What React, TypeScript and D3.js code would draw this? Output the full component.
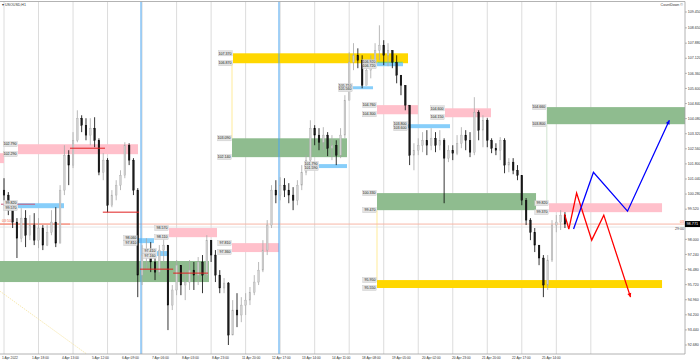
import React from "react";
import * as d3 from "d3";

// ---- price data (hourly candles, 2 bars merged) ----
const OPEN0 = 100.48;
const CLOSE = [
  100.23, 99.47, 98.87, 98.06, 99.07, 98.21, 98.72, 97.96, 98.57, 97.71,
  98.36, 98.87, 97.81, 100.48, 102.24, 101.74, 102.99, 104.1, 103.75, 103.25,
  103.6, 102.99, 101.38, 101.99, 99.72, 100.23, 100.73, 101.23, 102.74, 101.99,
  100.48, 96.2, 97.21, 97.46, 96.86, 96.35, 97.46, 97.71, 94.69, 95.45,
  96.7, 95.7, 95.85, 96.45, 96.2, 96.86, 96.2, 97.96, 97.21, 96.2,
  95.55, 95.8, 93.18, 94.44, 94.19, 94.69, 94.94, 95.34, 95.85, 96.45,
  97.46, 98.72, 100.48, 100.23, 100.73, 100.48, 100.23, 99.97, 100.73, 101.38,
  101.99, 103.6, 103.25, 102.89, 103.25, 102.59, 102.74, 102.24, 103.25, 105.01,
  106.92, 107.27, 107.02, 105.76, 106.52, 106.77, 107.52, 107.78, 107.27, 107.52,
  106.92, 106.27, 105.76, 104.76, 102.24, 102.49, 102.74, 102.99, 102.74, 103.09,
  102.74, 102.99, 102.09, 102.49, 102.34, 102.84, 103.25, 102.99, 102.39, 104.4,
  103.5, 104.0, 102.99, 102.59, 102.49, 102.99, 101.74, 101.89, 101.48, 101.23,
  99.97, 98.97, 98.36, 97.71, 97.06, 95.7, 96.96, 98.72, 98.87, 99.22,
  98.77,
];
const HIGH = [
  101.08, 100.38, 99.82, 99.07, 99.57, 99.47, 99.22, 99.32, 99.07, 98.72,
  98.72, 99.47, 99.62, 100.73, 102.74, 102.49, 103.4, 104.5, 104.25, 104.1,
  104.1, 104.15, 103.09, 102.34, 102.09, 100.48, 100.98, 101.48, 102.89, 102.84,
  102.09, 100.58, 97.71, 98.06, 97.86, 97.21, 97.71, 98.11, 97.71, 95.7,
  96.96, 96.45, 96.45, 96.96, 96.86, 97.11, 97.21, 98.21, 97.81, 97.46,
  96.45, 96.05, 95.85, 94.94, 95.29, 95.09, 95.29, 95.6, 96.2, 96.86,
  97.96, 98.97, 100.73, 100.98, 101.13, 101.08, 100.83, 100.63, 100.98, 101.74,
  102.24, 104.0, 103.75, 103.6, 103.65, 103.4, 103.25, 102.99, 103.6, 105.26,
  107.42, 107.88, 107.62, 107.27, 106.92, 107.27, 107.88, 108.78, 108.03, 107.88,
  107.52, 107.27, 106.27, 105.76, 104.76, 102.84, 103.09, 103.4, 103.5, 103.6,
  103.4, 103.5, 103.09, 102.74, 102.74, 103.25, 103.65, 103.5, 103.4, 105.16,
  104.5, 104.25, 104.1, 103.09, 102.84, 103.15, 103.09, 102.09, 102.09, 101.74,
  101.23, 100.08, 99.07, 98.57, 97.71, 97.21, 97.21, 98.97, 99.22, 99.47,
  99.37,
];
const LOW = [
  99.97, 99.22, 98.57, 97.06, 97.86, 97.61, 97.96, 97.71, 97.56, 97.46,
  97.66, 98.21, 97.61, 97.81, 100.23, 100.73, 101.59, 102.89, 103.4, 102.99,
  102.74, 102.64, 101.23, 100.98, 99.37, 99.62, 99.97, 100.48, 101.08, 101.74,
  100.23, 95.09, 95.7, 96.45, 96.35, 95.95, 96.2, 96.86, 93.43, 94.44,
  95.19, 95.19, 94.94, 95.45, 95.45, 95.7, 95.29, 96.05, 96.86, 95.85,
  95.29, 95.29, 92.68, 93.43, 93.58, 93.83, 94.19, 94.69, 95.19, 95.7,
  96.35, 97.21, 98.57, 99.82, 99.97, 100.13, 99.82, 99.47, 99.72, 100.48,
  101.23, 101.89, 102.74, 102.49, 102.49, 102.19, 101.99, 101.74, 102.09, 103.09,
  105.01, 106.52, 106.62, 105.61, 105.76, 106.11, 106.92, 107.02, 106.77, 106.72,
  106.62, 105.86, 105.26, 104.5, 101.74, 101.48, 102.24, 102.39, 102.24, 102.49,
  102.39, 102.49, 99.82, 101.89, 101.99, 102.24, 102.59, 102.49, 102.14, 102.24,
  102.99, 102.64, 102.64, 102.34, 102.24, 101.99, 101.33, 101.38, 101.28, 100.98,
  99.72, 98.72, 97.96, 97.36, 96.7, 95.09, 95.45, 96.86, 98.36, 98.47,
  98.57,
];

// ---- axis labels ----
const PRICE_TICKS = [
  "109.450", "108.650", "107.880", "107.120", "106.360", "105.600", "104.840",
  "104.080", "103.320", "102.560", "101.800", "101.040", "100.280", "99.520",
  "98.760", "98.000", "97.240", "96.480", "95.720", "94.960", "94.200",
  "93.440", "92.680",
];
const TIME_LABELS = [
  "1 Apr 2022", "1 Apr 18:00", "4 Apr 13:00", "5 Apr 12:00", "6 Apr 09:00",
  "7 Apr 06:00", "8 Apr 03:00", "8 Apr 23:00", "11 Apr 20:00", "12 Apr 17:00",
  "13 Apr 14:00", "14 Apr 11:00", "18 Apr 08:00", "19 Apr 05:00", "20 Apr 02:00",
  "20 Apr 23:00", "21 Apr 20:00", "22 Apr 17:00", "25 Apr 14:00",
];
const GRID_STEP = 8;
const GRID_LAST = 136;
const CURRENT_PRICE = 98.77;
const ASK_PRICE = 98.62;

// ---- zones: [startIdx, endIdx, top, bottom, kind, labelled] ----
const ZONES: [number, number, number, number, string, boolean][] = [
  [-2, 0, 102.34, 101.84, "pink", false],
  [3.24, 31.05, 102.79, 102.29, "pink", true],
  [3.24, 13.9, 99.82, 99.57, "blue", true],
  [-2, 47.5, 96.91, 95.85, "green", false],
  [31.05, 34.76, 98.06, 97.81, "blue", true],
  [35.46, 38.0, 97.41, 97.16, "blue", true],
  [38.24, 49.36, 98.57, 98.11, "pink", true],
  [52.84, 79.49, 103.09, 102.14, "green", true],
  [53.07, 93.63, 107.37, 106.87, "gold", true],
  [52.84, 63.73, 97.81, 97.36, "pink", true],
  [73.0, 79.49, 101.79, 101.59, "blue", true],
  [80.88, 85.52, 105.71, 105.56, "blue", true],
  [86.44, 92.47, 106.92, 106.72, "blue", true],
  [86.44, 95.94, 104.76, 104.3, "pink", true],
  [93.63, 103.36, 103.8, 103.6, "blue", true],
  [102.2, 112.86, 104.6, 104.15, "pink", true],
  [86.44, 123.3, 100.33, 99.47, "green", true],
  [86.44, 152.5, 95.95, 95.55, "gold", true],
  [126.3, 152.5, 99.82, 99.37, "pink", true],
  [125.8, 158.5, 104.66, 103.8, "green", true],
];
const ZONE_COLORS: Record<string, string> = {
  pink: "#ffc0cb",
  green: "#8fbc8f",
  gold: "#ffd700",
  blue: "#87cefa",
};
// short red levels: [startIdx, endIdx, price]
const RED_LEVELS: [number, number, number][] = [
  [15.3, 23.4, 102.59],
  [22.9, 31.3, 99.37],
  [31.5, 39.2, 96.5],
  [39.2, 47.3, 96.3],
];
const PURPLE_LEVEL: [number, number, number] = [-0.7, 7.2, 99.77];
// thin connectors: [idx, from, to, color]
const CONNECTORS: [number, number, number, string][] = [
  [52.84, 106.87, 103.09, "#ffe680"],
  [86.44, 99.47, 95.95, "#ffe680"],
  [125.8, 103.8, 99.82, "#c4dcc4"],
];
const SESSION_LINES = [31.75, 63.73];
// projected paths [idx, price]
const RED_PATH: [number, number][] = [
  [129.9, 99.27], [130.9, 98.52], [132.7, 100.33], [136.2, 97.96], [139.0, 99.22], [145.2, 95.09],
];
const BLUE_PATH: [number, number][] = [
  [132.0, 98.52], [136.6, 101.38], [144.5, 99.42], [154.2, 104.0],
];
const DIAG: [number, number][] = [[-1, 95.4], [19.2, 92.22]];

const W = 700;
const H = 362;
const PLOT_R = 685;
const PLOT_T = 1.5;
const PLOT_B = 354;

function Arrow({ pts, color, x, y }: { pts: [number, number][]; color: string; x: any; y: any }) {
  const line = d3.line<[number, number]>().x((d) => x(d[0])).y((d) => y(d[1]));
  const n = pts.length;
  const x1 = x(pts[n - 2][0]), y1 = y(pts[n - 2][1]);
  const x2 = x(pts[n - 1][0]), y2 = y(pts[n - 1][1]);
  const ang = Math.atan2(y2 - y1, x2 - x1);
  const L = 4, Wd = 2;
  const bx = x2 - L * Math.cos(ang), by = y2 - L * Math.sin(ang);
  const p1 = [bx + Wd * Math.sin(ang), by - Wd * Math.cos(ang)];
  const p2 = [bx - Wd * Math.sin(ang), by + Wd * Math.cos(ang)];
  return (
    <g>
      <path d={line(pts) || ""} fill="none" stroke={color} strokeWidth={1.3} />
      <path d={`M${x2},${y2}L${p1[0]},${p1[1]}L${p2[0]},${p2[1]}Z`} fill={color} />
    </g>
  );
}

function Tag({ xr, yv, text }: { xr: number; yv: number; text: string }) {
  const w = 13.5;
  return (
    <g>
      <rect x={xr - w} y={yv - 2.6} width={w} height={5.2} fill="#e4e4e4" stroke="#b8b8b8" strokeWidth={0.3} />
      <text x={xr - 0.7} y={yv + 1.2} fontSize={3.6} textAnchor="end" fill="#222">{text}</text>
    </g>
  );
}

export default function App() {
  const x = d3.scaleLinear().domain([0, 1]).range([4, 8.315]);
  const y = d3.scaleLinear().domain([92.68, 109.45]).range([345, 12]);
  const tx = d3.scalePoint<string>().domain(TIME_LABELS).range([2, 542]);
  const grid = d3.range(0, GRID_LAST + 1, GRID_STEP);
  const font = "'Liberation Sans', Arial, sans-serif";

  return (
    <div style={{ position: "fixed", left: 0, top: 0, width: W, height: H, background: "#fff" }}>
      <svg width={W} height={H} style={{ display: "block", fontFamily: font }}>
        <defs>
          <clipPath id="plot">
            <rect x={0} y={PLOT_T} width={PLOT_R} height={PLOT_B - PLOT_T} />
          </clipPath>
        </defs>
        <rect width={W} height={H} fill="#fff" />
        <g clipPath="url(#plot)">
          {grid.map((g) => (
            <line key={g} x1={x(g)} x2={x(g)} y1={PLOT_T} y2={PLOT_B} stroke="#dcdcdc" strokeWidth={1} />
          ))}
          {ZONES.map((z, k) => (
            <rect key={k} x={x(z[0])} width={x(z[1]) - x(z[0])} y={y(z[2])} height={y(z[3]) - y(z[2])}
              fill={ZONE_COLORS[z[4]]} />
          ))}
          {CONNECTORS.map((c, k) => (
            <line key={k} x1={x(c[0])} x2={x(c[0])} y1={y(c[1])} y2={y(c[2])} stroke={c[3]} strokeWidth={0.8} />
          ))}
          <line x1={x(86.6)} x2={x(92.4)} y1={y(106.92)} y2={y(106.92)} stroke="#6fd36f" strokeWidth={1} />
          <path d={d3.line<[number, number]>().x((d) => x(d[0])).y((d) => y(d[1]))(DIAG) || ""}
            stroke="#f5e3a0" strokeWidth={0.8} strokeDasharray="1.5,1" fill="none" />
          <line x1={0} x2={PLOT_R} y1={y(CURRENT_PRICE)} y2={y(CURRENT_PRICE)} stroke="#f7b6a6" strokeWidth={1} />
          <line x1={0} x2={PLOT_R} y1={y(ASK_PRICE)} y2={y(ASK_PRICE)} stroke="#dedede" strokeWidth={0.8} />
          <line x1={0} x2={x(15.3)} y1={y(CURRENT_PRICE)} y2={y(CURRENT_PRICE)} stroke="#f27b68" strokeWidth={1} />
          {SESSION_LINES.map((s) => (
            <line key={s} x1={x(s)} x2={x(s)} y1={PLOT_T} y2={PLOT_B} stroke="#4aa6f2" strokeWidth={1} />
          ))}
          {CLOSE.map((c, i) => {
            const o = i === 0 ? OPEN0 : CLOSE[i - 1];
            const up = c >= o;
            const hi = Math.max(HIGH[i], o, c);
            const lo = Math.min(LOW[i], o, c);
            const cx = x(i);
            const top = y(Math.max(o, c));
            const bh = Math.max(0.8, y(Math.min(o, c)) - top);
            return (
              <g key={i}>
                <line x1={cx} x2={cx} y1={y(hi)} y2={y(lo)} stroke={up ? "#a8a8a8" : "#000"} strokeWidth={0.8} />
                <rect x={cx - 0.85} y={top} width={1.7} height={bh} fill={up ? "#d0d0d0" : "#1a1a1a"}
                  stroke={up ? "#a8a8a8" : "#000"} strokeWidth={0.35} />
              </g>
            );
          })}
          {RED_LEVELS.map((r, k) => (
            <line key={k} x1={x(r[0])} x2={x(r[1])} y1={y(r[2])} y2={y(r[2])} stroke="#e01f1f" strokeWidth={1} />
          ))}
          <line x1={x(PURPLE_LEVEL[0])} x2={x(PURPLE_LEVEL[1])} y1={y(PURPLE_LEVEL[2])} y2={y(PURPLE_LEVEL[2])}
            stroke="#c8587a" strokeWidth={1} />
          <Arrow pts={RED_PATH} color="#ff0000" x={x} y={y} />
          <Arrow pts={BLUE_PATH} color="#0000ff" x={x} y={y} />
          {ZONES.filter((z) => z[5]).map((z, k) => (
            <g key={k}>
              <Tag xr={x(z[0]) - 0.8} yv={y(z[2])} text={z[2].toFixed(3)} />
              <Tag xr={x(z[0]) - 0.8} yv={y(z[3])} text={z[3].toFixed(3)} />
            </g>
          ))}
        </g>
        {/* frame */}
        <line x1={0} x2={PLOT_R} y1={PLOT_T} y2={PLOT_T} stroke="#a0a0a0" strokeWidth={0.8} />
        <line x1={0} x2={PLOT_R} y1={PLOT_B} y2={PLOT_B} stroke="#a0a0a0" strokeWidth={0.8} />
        <line x1={PLOT_R} x2={PLOT_R} y1={PLOT_T} y2={PLOT_B} stroke="#a0a0a0" strokeWidth={0.8} />
        {/* price axis */}
        {PRICE_TICKS.map((t) => (
          <g key={t}>
            <line x1={PLOT_R} x2={PLOT_R + 2} y1={y(+t)} y2={y(+t)} stroke="#777" strokeWidth={0.5} />
            <text x={PLOT_R + 2.8} y={y(+t) + 1.2} fontSize={3.6} fill="#333">{t}</text>
          </g>
        ))}
        <rect x={PLOT_R} y={y(CURRENT_PRICE) - 3} width={15} height={6} fill="#000" />
        <text x={PLOT_R + 1.5} y={y(CURRENT_PRICE) + 1.3} fontSize={3.8} fill="#fff">98.771</text>
        <text x={PLOT_R - 1} y={y(CURRENT_PRICE) - 1.5} fontSize={3.6} fill="#ff6a3d" textAnchor="end">03</text>
        <text x={PLOT_R - 1} y={y(CURRENT_PRICE) + 6} fontSize={3.6} fill="#333" textAnchor="end">29:00</text>
        <text x={2} y={y(CURRENT_PRICE) - 2} fontSize={3.6} fill="#f2663f">03:50</text>
        {/* time axis */}
        {TIME_LABELS.map((t) => (
          <text key={t} x={tx(t)} y={359} fontSize={3.3} fill="#333">{t}</text>
        ))}
        {/* captions */}
        <text x={2} y={5.5} fontSize={3.6} fill="#333">▾ USOUSD,H1</text>
        <text x={PLOT_R - 2} y={5.5} fontSize={3.6} fill="#333" textAnchor="end">CountDown ©</text>
      </svg>
    </div>
  );
}
